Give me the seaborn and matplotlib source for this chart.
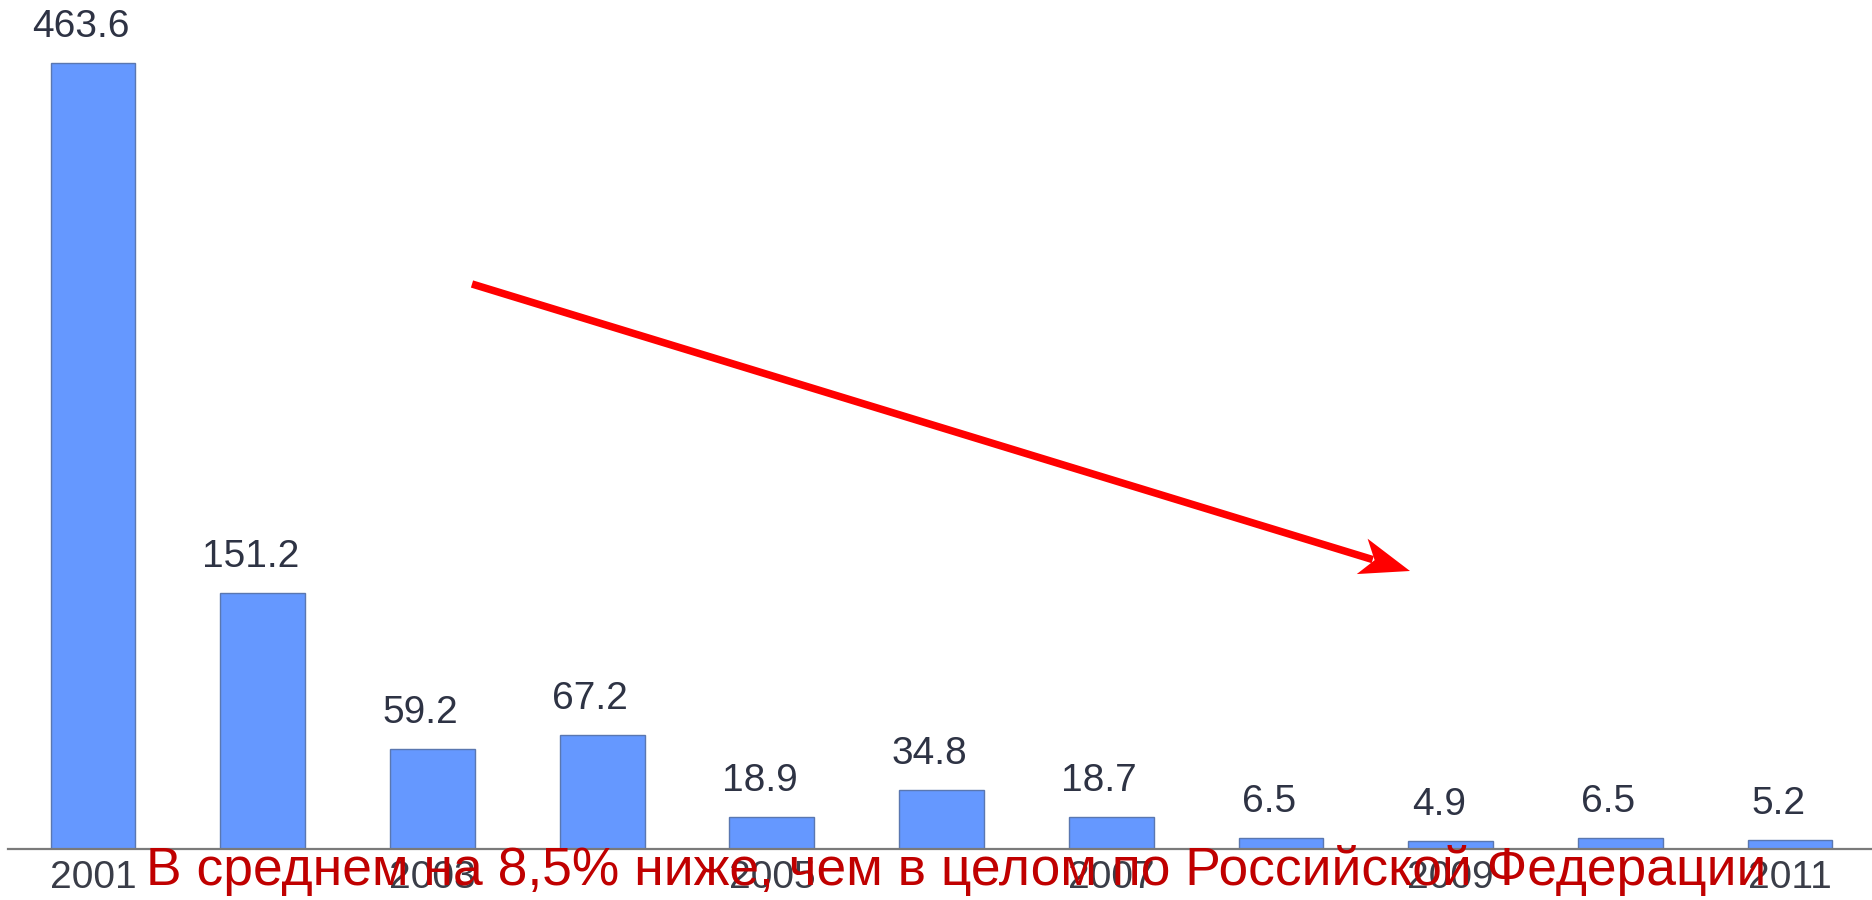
import matplotlib
matplotlib.use("Agg")
import matplotlib.pyplot as plt
import seaborn as sns
import pandas as pd
import numpy as np
from matplotlib.patches import Polygon
from matplotlib.ticker import FixedLocator
from matplotlib.transforms import IdentityTransform

# ---- data ----
years = ["2001", "2002", "2003", "2004", "2005", "2006", "2007", "2008", "2009", "2010", "2011"]
values = [463.6, 151.2, 59.2, 67.2, 18.9, 34.8, 18.7, 6.5, 4.9, 6.5, 5.2]
value_labels = ["463.6", "151.2", "59.2", "67.2", "18.9", "34.8", "18.7", "6.5", "4.9", "6.5", "5.2"]
tick_labels = ["2001", "", "2003", "", "2005", "", "2007", "", "2009", "", "2011"]
note = "В среднем на 8,5% ниже, чем в целом по Российской Федерации"

df = pd.DataFrame({"year": years, "value": values})

sns.set_style("white")
plt.rcParams["font.family"] = ["Liberation Sans", "DejaVu Sans"]

W, H = 1872, 900
fig = plt.figure(figsize=(W / 100, H / 100), dpi=100)
ax = fig.add_axes([8 / W, (H - 849) / H, (W - 8) / W, 849 / H])

sns.barplot(data=df, x="year", y="value", color="#6598FF", saturation=1,
            width=0.5, edgecolor="#5a77b0", linewidth=1.0, ax=ax)

ax.set_xlim(-0.501, 10.483)
ax.set_ylim(0, 500.7)
ax.set_xlabel("")
ax.set_ylabel("")
ax.set_yticks([])
for s in ["top", "right", "left"]:
    ax.spines[s].set_visible(False)
ax.spines["bottom"].set_color("#7a7a7a")
ax.spines["bottom"].set_linewidth(1.6)

ax.set_xticks(range(len(years)))
ax.set_xticklabels(tick_labels, fontsize=28, color="#3a3d48")
ax.tick_params(axis="x", which="major", length=0, pad=8)
ax.xaxis.set_minor_locator(FixedLocator(np.arange(-0.5, len(years) + 0.5, 1.0)))
ax.tick_params(axis="x", which="minor", length=7.5, width=1.5, color="#606060", direction="out")

# value labels
for i, (v, lab) in enumerate(zip(values, value_labels)):
    ax.annotate(lab, xy=(i, v), xytext=(-12, 26), textcoords="offset pixels",
                ha="center", va="baseline", fontsize=28, color="#2e3344",
                annotation_clip=False)

# red arrow (figure pixel coords)
sx, sy = 472, H - 284
tx, ty = 1410, H - 571
d = np.array([tx - sx, ty - sy], dtype=float)
L = np.hypot(*d)
u = d / L
n = np.array([-u[1], u[0]])
tip = np.array([tx, ty], dtype=float)
head_len, half_w, notch = 50, 18.5, 37
w1 = tip - head_len * u + half_w * n
w2 = tip - head_len * u - half_w * n
nb = tip - notch * u
shaft_end = tip - (notch + 2) * u
fig.add_artist(plt.Line2D([sx, shaft_end[0]], [sy, shaft_end[1]], transform=IdentityTransform(),
                          color="#FF0000", linewidth=5.4, solid_capstyle="butt"))
fig.add_artist(Polygon([tip, w1, nb, w2], closed=True, transform=IdentityTransform(),
                       facecolor="#FF0000", edgecolor="none"))

# red note text, fitted to width
target_w = 1615
fs = 32
t = fig.text(146 / W, 15 / H, note, ha="left", va="baseline", fontsize=fs, color="#C00000")
r = fig.canvas.get_renderer()
for _ in range(3):
    bb = t.get_window_extent(renderer=r)
    fs = fs * target_w / bb.width
    t.set_fontsize(fs)

fig.savefig("out.png", dpi=100)
